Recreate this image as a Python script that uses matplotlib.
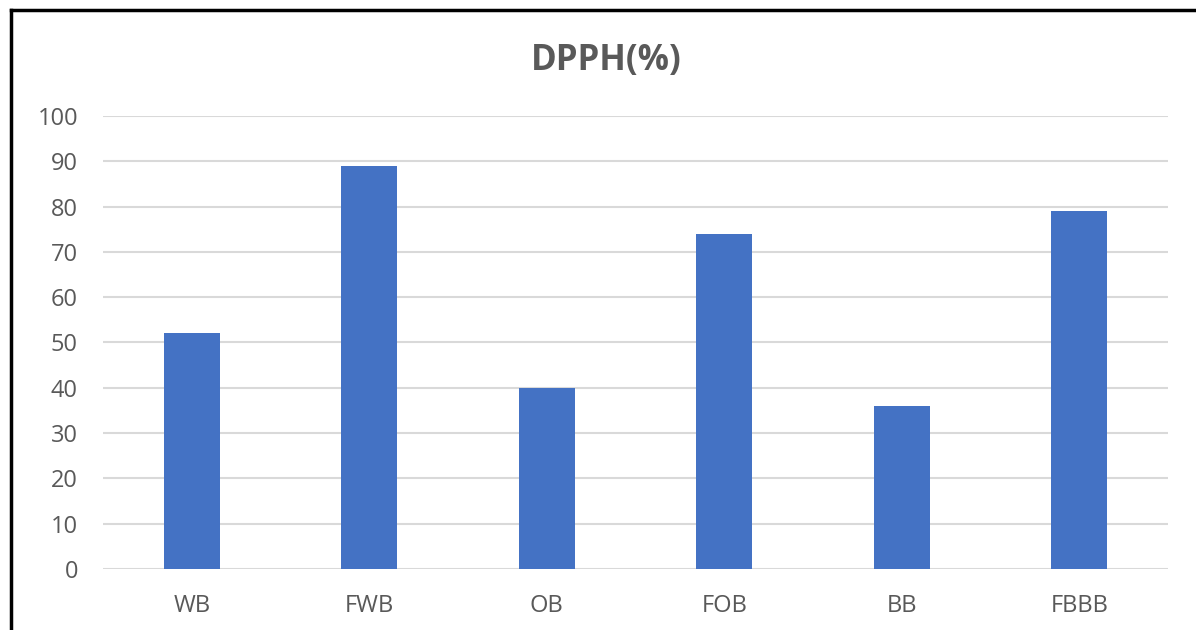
import numpy as np
import matplotlib.pyplot as plt
from matplotlib.lines import Line2D

samples = ['WB', 'FWB', 'OB', 'FOB', 'BB', 'FBBB']
dpph = [52, 89, 40, 74, 36, 79]
yticks = [0, 10, 20, 30, 40, 50, 60, 70, 80, 90, 100]

plt.rcParams['font.family'] = ['Open Sans', 'DejaVu Sans']
grey = '#595959'

fig = plt.figure(figsize=(11.96, 6.3), dpi=100)
ax = fig.add_axes([0.0861, 0.0968, 0.8905, 0.7191])

x = np.arange(len(samples))
ax.bar(x, dpph, width=0.315, color='#4472C4', zorder=3)

ax.set_xlim(-0.5, len(samples) - 0.5)
ax.set_ylim(0, 100)
ax.set_yticks(yticks)
ax.set_xticks(x)
ax.set_xticklabels(samples)
ax.grid(axis='y', color='#d9d9d9', linewidth=1.5, zorder=0)
ax.tick_params(length=0, labelsize=17, labelcolor=grey)
ax.tick_params(axis='y', pad=18)
ax.tick_params(axis='x', pad=18)
for s in ax.spines.values():
    s.set_visible(False)

fig.text(0.507, 0.903, 'DPPH(%)', ha='center', va='center',
         fontsize=25, fontweight='bold', color=grey)

# black frame of the screenshot (top and left edges only)
fig.add_artist(Line2D([10.5 / 1196, 1.0], [1 - 9.5 / 630, 1 - 9.5 / 630],
                      transform=fig.transFigure, color='black', linewidth=2.5))
fig.add_artist(Line2D([10.5 / 1196, 10.5 / 1196], [0, 1 - 9.5 / 630],
                      transform=fig.transFigure, color='black', linewidth=2.5))

fig.savefig('out.png', dpi=100)
